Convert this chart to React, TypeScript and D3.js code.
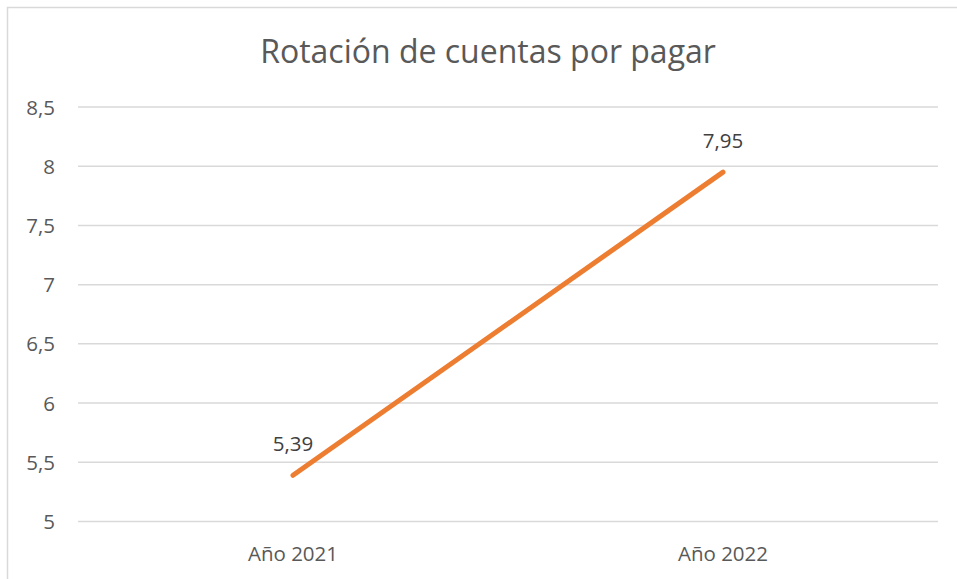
import * as d3 from "d3";
import { useRef, useEffect } from "react";

const title = "Rotación de cuentas por pagar";
const categories = ["Año 2021", "Año 2022"];
const values = [5.39, 7.95];
const yTicks = [5, 5.5, 6, 6.5, 7, 7.5, 8, 8.5];

const W = 957;
const H = 579;
const FONT = "'Open Sans', 'Noto Sans', sans-serif";
const TEXT = "#595959";

const fmt = (n: number) => String(n).replace(".", ",");

export default function App() {
  const svgRef = useRef<SVGSVGElement | null>(null);

  useEffect(() => {
    const svg = d3.select(svgRef.current);
    svg.selectAll("*").remove();

    // chart frame
    svg.append("rect")
      .attr("x", 7.5).attr("y", 7.5)
      .attr("width", W + 10).attr("height", H + 10)
      .attr("fill", "white")
      .attr("stroke", "#d9d9d9")
      .attr("stroke-width", 1.5);

    const x = d3.scaleBand<string>().domain(categories).range([78, 938]);
    const y = d3.scaleLinear().domain([5, 8.5]).range([521.5, 107]);

    // gridlines
    svg.append("g")
      .selectAll("line")
      .data(yTicks)
      .join("line")
      .attr("x1", 78).attr("x2", 938)
      .attr("y1", d => y(d)).attr("y2", d => y(d))
      .attr("stroke", "#d9d9d9")
      .attr("stroke-width", 1.5);

    // y labels
    svg.append("g")
      .selectAll("text")
      .data(yTicks)
      .join("text")
      .attr("x", 55)
      .attr("y", d => y(d) + 7.5)
      .attr("text-anchor", "end")
      .attr("font-family", FONT)
      .attr("font-size", 20.5)
      .attr("fill", TEXT)
      .text(d => fmt(d));

    // x labels
    svg.append("g")
      .selectAll("text")
      .data(categories)
      .join("text")
      .attr("x", d => x(d)! + x.bandwidth() / 2)
      .attr("y", 561)
      .attr("text-anchor", "middle")
      .attr("font-family", FONT)
      .attr("font-size", 20.5)
      .attr("fill", TEXT)
      .text(d => d);

    const pts = categories.map((c, i) => ({ c, v: values[i] }));
    const line = d3.line<{ c: string; v: number }>()
      .x(d => x(d.c)! + x.bandwidth() / 2)
      .y(d => y(d.v));

    svg.append("path")
      .datum(pts)
      .attr("d", line)
      .attr("fill", "none")
      .attr("stroke", "#ED7D31")
      .attr("stroke-width", 5)
      .attr("stroke-linecap", "round");

    // data labels
    svg.append("g")
      .selectAll("text")
      .data(pts)
      .join("text")
      .attr("x", d => x(d.c)! + x.bandwidth() / 2)
      .attr("y", d => y(d.v) - 24)
      .attr("text-anchor", "middle")
      .attr("font-family", FONT)
      .attr("font-size", 20.5)
      .attr("fill", "#404040")
      .text(d => fmt(d.v));

    // title
    svg.append("text")
      .attr("x", 488)
      .attr("y", 63)
      .attr("text-anchor", "middle")
      .attr("font-family", FONT)
      .attr("font-size", 32)
      .attr("fill", TEXT)
      .text(title);
  }, []);

  return (
    <svg
      ref={svgRef}
      width={W}
      height={H}
      style={{ position: "absolute", left: 0, top: 0, display: "block" }}
    />
  );
}
